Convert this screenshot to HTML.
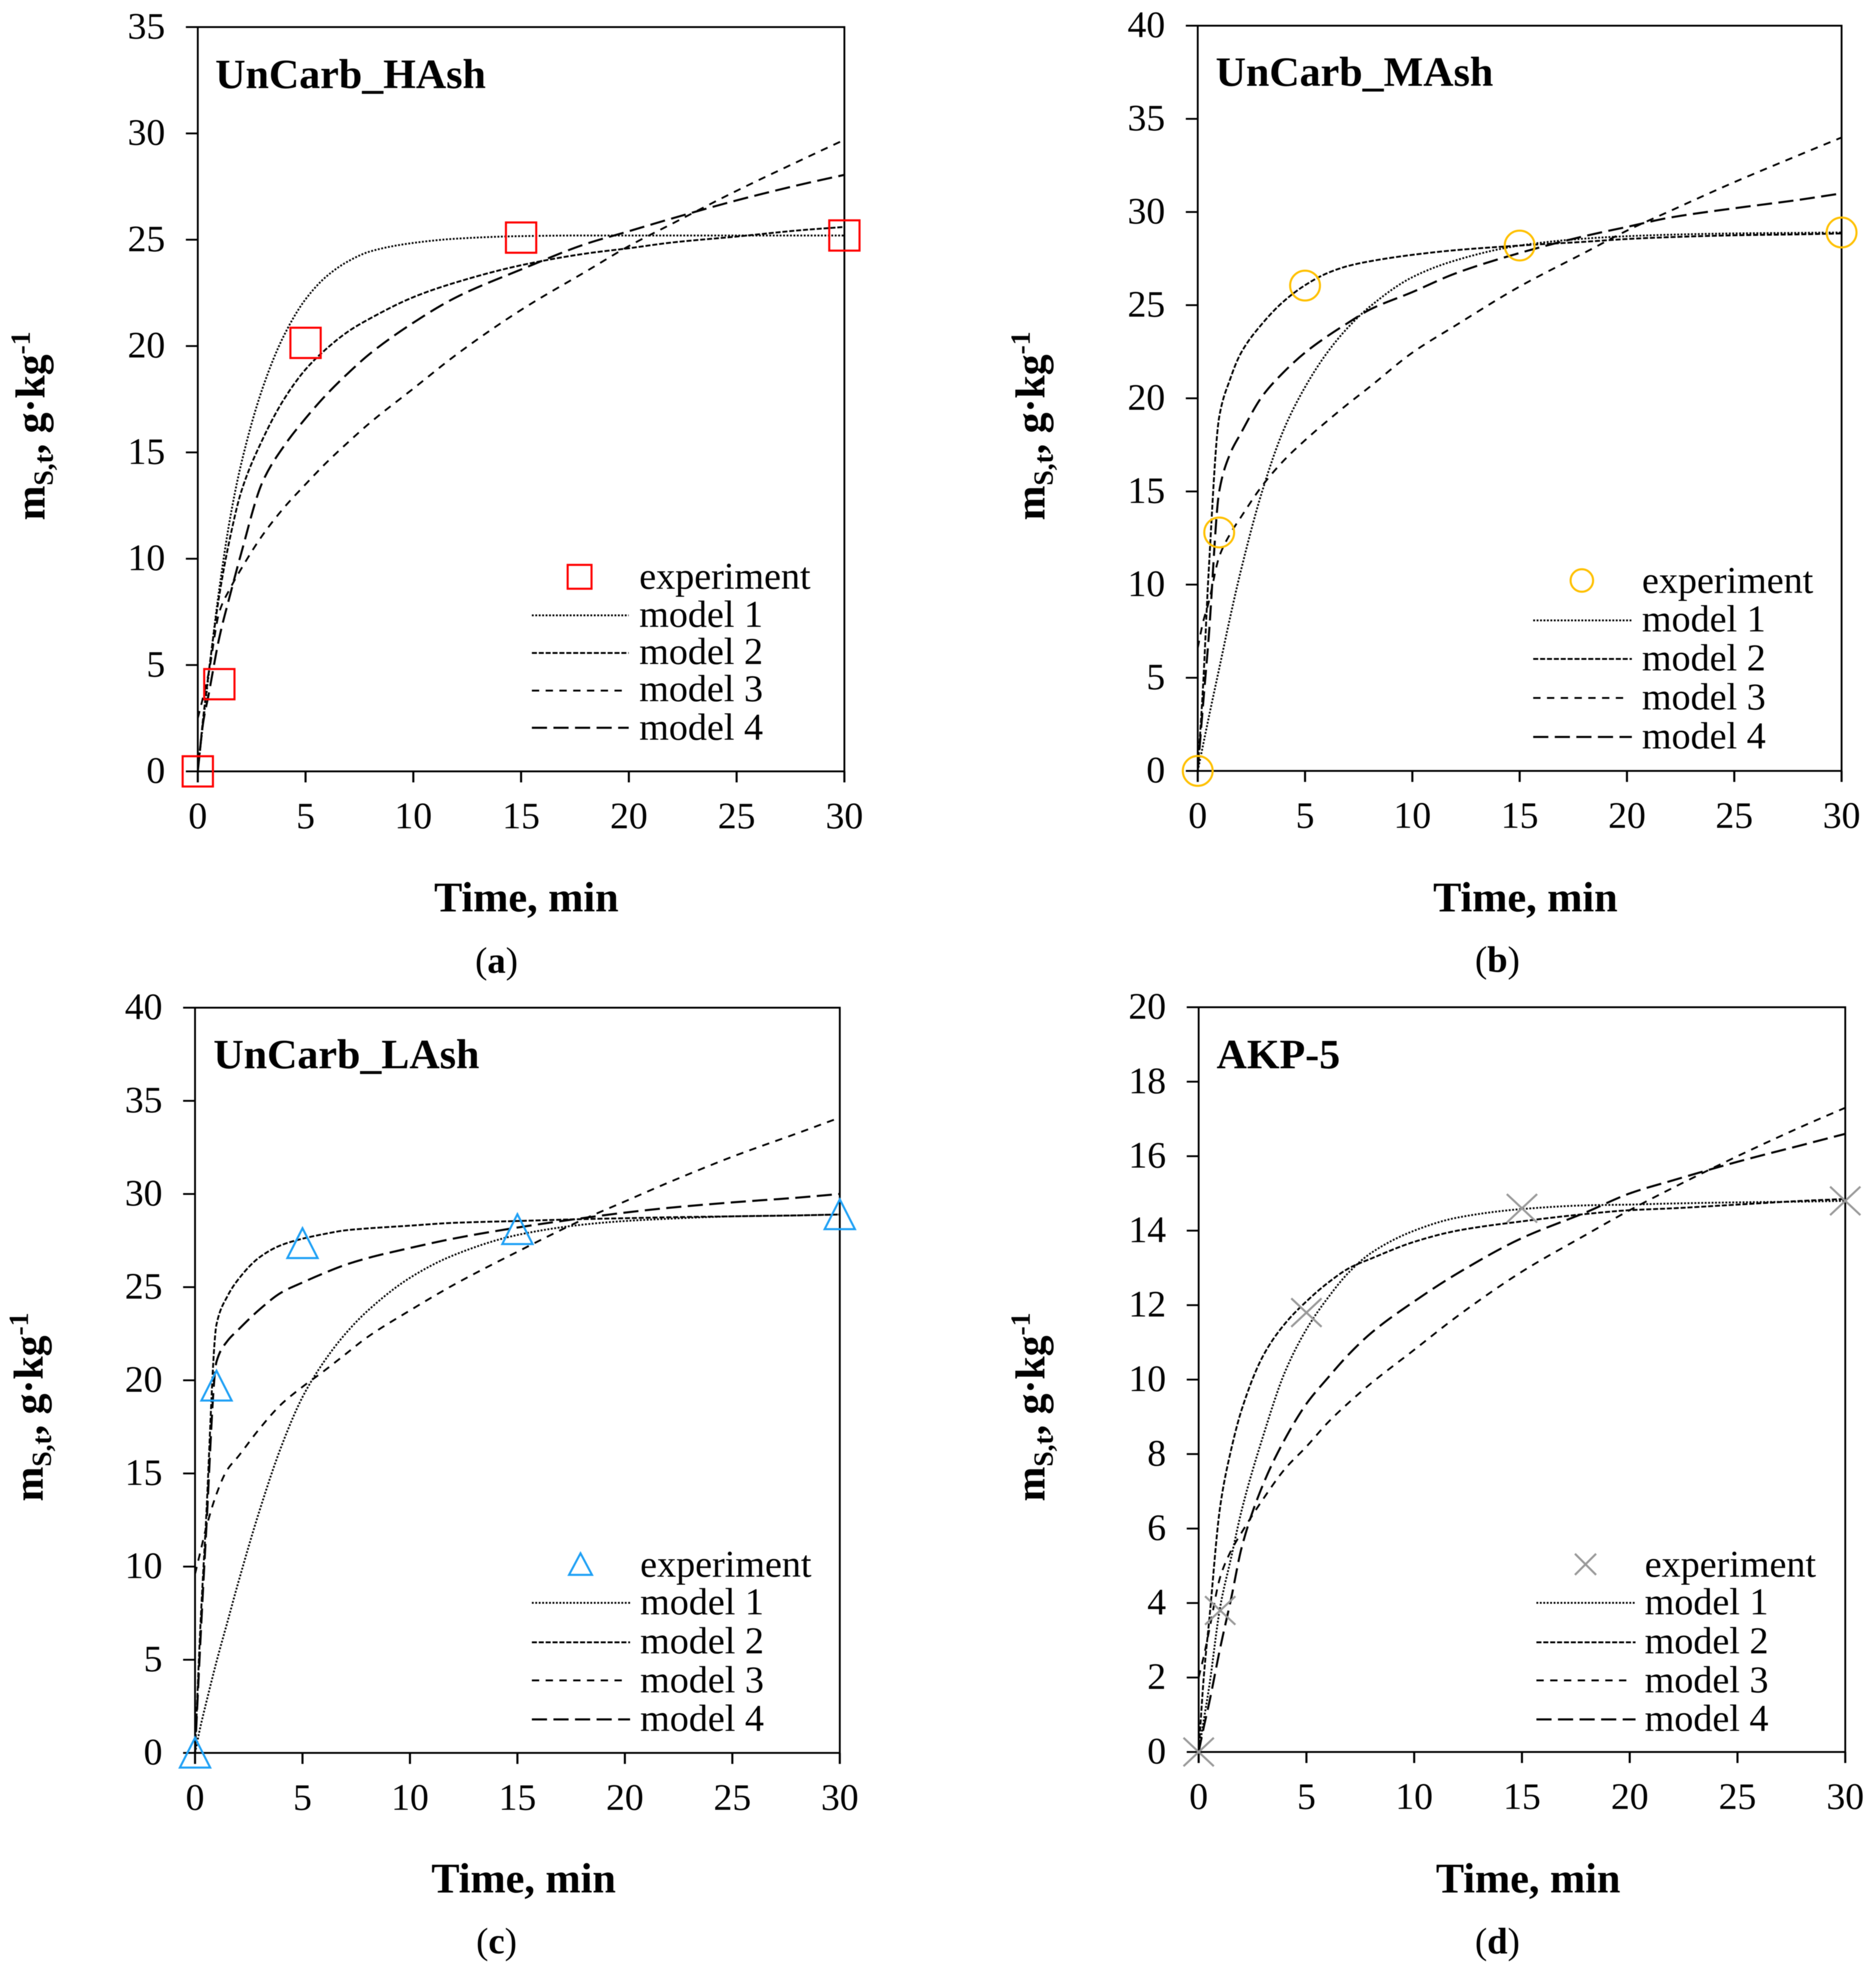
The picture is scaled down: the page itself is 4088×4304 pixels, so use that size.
<!DOCTYPE html>
<html lang="en">
<head>
<meta charset="utf-8">
<title>Adsorption kinetics charts</title>
<style>
html,body{margin:0;padding:0;background:#fff;width:4088px;height:4304px;overflow:hidden}
svg{display:block;filter:blur(0.7px)}
text{font-family:"Liberation Serif",serif;fill:#000}
</style>
</head>
<body>
<svg id="figure" xmlns="http://www.w3.org/2000/svg" width="4088" height="4304" viewBox="0 0 4088 4304">
  <rect width="4088" height="4304" fill="#fff"/>

  <g id="panel-a">
    <text x="469" y="192" font-size="91.5" font-weight="bold">UnCarb_HAsh</text>
    <text x="1147" y="1986" font-size="92" font-weight="bold" text-anchor="middle">Time, min</text>
    <text transform="translate(97,1134) rotate(-90)" font-size="91" font-weight="bold">m<tspan font-size="60" dy="18">S,t</tspan><tspan dy="-18">, g·kg</tspan><tspan font-size="60" dy="-32">-1</tspan></text>
    <text x="1082" y="2120" font-size="80" text-anchor="middle">(<tspan font-weight="bold">a</tspan>)</text>
    <g font-size="83">
      <rect x="1237" y="1231" width="52" height="52" fill="none" stroke="#ff0000" stroke-width="4.5"/>
      <text x="1393" y="1283">experiment</text>
      <line x1="1159" x2="1370" y1="1341" y2="1341" stroke="#000" stroke-width="4" stroke-dasharray="4 3.5"/>
      <text x="1393" y="1366">model 1</text>
      <line x1="1159" x2="1370" y1="1423" y2="1423" stroke="#000" stroke-width="4" stroke-dasharray="11 4"/>
      <text x="1393" y="1447">model 2</text>
      <line x1="1159" x2="1360" y1="1505" y2="1505" stroke="#000" stroke-width="4" stroke-dasharray="16 14"/>
      <text x="1393" y="1528">model 3</text>
      <line x1="1159" x2="1370" y1="1586" y2="1586" stroke="#000" stroke-width="4.5" stroke-dasharray="33 14"/>
      <text x="1393" y="1612">model 4</text>
    </g>
  </g>

  <g id="panel-b">
    <text x="2649" y="187" font-size="91.5" font-weight="bold">UnCarb_MAsh</text>
    <text x="3324" y="1986" font-size="92" font-weight="bold" text-anchor="middle">Time, min</text>
    <text transform="translate(2276,1134) rotate(-90)" font-size="91" font-weight="bold">m<tspan font-size="60" dy="18">S,t</tspan><tspan dy="-18">, g·kg</tspan><tspan font-size="60" dy="-32">-1</tspan></text>
    <text x="3263" y="2118" font-size="80" text-anchor="middle">(<tspan font-weight="bold">b</tspan>)</text>
    <g font-size="83">
      <circle cx="3447" cy="1265" r="24.5" fill="none" stroke="#ffc000" stroke-width="4.5"/>
      <text x="3578" y="1292">experiment</text>
      <line x1="3341" x2="3556" y1="1352" y2="1352" stroke="#000" stroke-width="4" stroke-dasharray="4 3.5"/>
      <text x="3578" y="1376">model 1</text>
      <line x1="3341" x2="3556" y1="1436" y2="1436" stroke="#000" stroke-width="4" stroke-dasharray="11 4"/>
      <text x="3578" y="1461">model 2</text>
      <line x1="3341" x2="3545" y1="1521" y2="1521" stroke="#000" stroke-width="4" stroke-dasharray="16 14"/>
      <text x="3578" y="1546">model 3</text>
      <line x1="3341" x2="3556" y1="1606" y2="1606" stroke="#000" stroke-width="4.5" stroke-dasharray="33 14"/>
      <text x="3578" y="1631">model 4</text>
    </g>
  </g>

  <g id="panel-c">
    <text x="465" y="2328" font-size="91.5" font-weight="bold">UnCarb_LAsh</text>
    <text x="1141" y="4124" font-size="92" font-weight="bold" text-anchor="middle">Time, min</text>
    <text transform="translate(93,3272) rotate(-90)" font-size="91" font-weight="bold">m<tspan font-size="60" dy="18">S,t</tspan><tspan dy="-18">, g·kg</tspan><tspan font-size="60" dy="-32">-1</tspan></text>
    <text x="1082" y="4257" font-size="80" text-anchor="middle">(<tspan font-weight="bold">c</tspan>)</text>
    <g font-size="83">
      <polygon points="1265,3385 1290,3432 1240,3432" fill="none" stroke="#1ea0f5" stroke-width="4.5"/>
      <text x="1395" y="3436">experiment</text>
      <line x1="1159" x2="1373" y1="3493" y2="3493" stroke="#000" stroke-width="4" stroke-dasharray="4 3.5"/>
      <text x="1395" y="3518">model 1</text>
      <line x1="1159" x2="1373" y1="3579" y2="3579" stroke="#000" stroke-width="4" stroke-dasharray="11 4"/>
      <text x="1395" y="3603">model 2</text>
      <line x1="1159" x2="1362" y1="3662" y2="3662" stroke="#000" stroke-width="4" stroke-dasharray="16 14"/>
      <text x="1395" y="3688">model 3</text>
      <line x1="1159" x2="1373" y1="3747" y2="3747" stroke="#000" stroke-width="4.5" stroke-dasharray="33 14"/>
      <text x="1395" y="3772">model 4</text>
    </g>
  </g>

  <g id="panel-d">
    <text x="2651" y="2328" font-size="91.5" font-weight="bold">AKP-5</text>
    <text x="3330" y="4124" font-size="92" font-weight="bold" text-anchor="middle">Time, min</text>
    <text transform="translate(2276,3272) rotate(-90)" font-size="91" font-weight="bold">m<tspan font-size="60" dy="18">S,t</tspan><tspan dy="-18">, g·kg</tspan><tspan font-size="60" dy="-32">-1</tspan></text>
    <text x="3263" y="4257" font-size="80" text-anchor="middle">(<tspan font-weight="bold">d</tspan>)</text>
    <g font-size="83">
      <path d="M3432 3386L3478 3432M3478 3386L3432 3432" fill="none" stroke="#999999" stroke-width="4.5"/>
      <text x="3584" y="3436">experiment</text>
      <line x1="3348" x2="3564" y1="3493" y2="3493" stroke="#000" stroke-width="4" stroke-dasharray="4 3.5"/>
      <text x="3584" y="3518">model 1</text>
      <line x1="3348" x2="3564" y1="3579" y2="3579" stroke="#000" stroke-width="4" stroke-dasharray="11 4"/>
      <text x="3584" y="3603">model 2</text>
      <line x1="3348" x2="3552" y1="3662" y2="3662" stroke="#000" stroke-width="4" stroke-dasharray="16 14"/>
      <text x="3584" y="3688">model 3</text>
      <line x1="3348" x2="3564" y1="3747" y2="3747" stroke="#000" stroke-width="4.5" stroke-dasharray="33 14"/>
      <text x="3584" y="3772">model 4</text>
    </g>
  </g>
</svg>

<script>
// ---- Shared x data ----
const timeGrid = [0,0.25,0.5,1,1.5,2,3,4,5,6,7,8,10,12,15,18,20,22,25,28,30];
const expTimes = [0,1,5,15,30];
const xTicks = [0,5,10,15,20,25,30];
const yTicksA = [0,5,10,15,20,25,30,35];
const yTicksB = [0,5,10,15,20,25,30,35,40];
const yTicksC = [0,5,10,15,20,25,30,35,40];
const yTicksD = [0,2,4,6,8,10,12,14,16,18,20];

// ---- Panel a: UnCarb_HAsh ----
const expA = [0,4.1,20.15,25.1,25.2];
const model1A = [0,2.3,4.5,8.6,11.9,14.4,18,20.5,22.2,23.3,24,24.45,24.85,25.05,25.17,25.2,25.2,25.2,25.2,25.2,25.2];
const model2A = [0,2.5,4.6,8.3,11,13.1,15.6,17.5,18.9,19.9,20.7,21.3,22.3,23.0,23.8,24.35,24.6,24.87,25.15,25.45,25.6];
const model3A = [2.5,3.5,4.6,7.5,8.6,9.5,11.1,12.4,13.5,14.55,15.5,16.4,18,19.6,21.7,23.5,24.7,25.75,27.3,28.75,29.7];
const model4A = [0,2.3,3.6,6.3,8.3,10.2,13.6,15.3,16.6,17.75,18.75,19.65,21.1,22.3,23.6,24.8,25.4,26,26.85,27.6,28.05];

// ---- Panel b: UnCarb_MAsh ----
const expB = [0,12.8,26.05,28.2,28.9];
const model1B = [0,1.4,2.8,5.5,8.2,10.7,15,18.3,20.6,22.4,23.8,24.9,26.5,27.4,28.2,28.57,28.7,28.78,28.85,28.88,28.9];
const model2B = [0,4.6,10.5,19,21,22.4,24,25.2,26.07,26.7,27.1,27.35,27.7,27.95,28.2,28.4,28.55,28.65,28.75,28.8,28.85];
const model3B = [6.6,8,9,11.5,12.7,13.6,15.3,16.65,17.75,18.75,19.7,20.6,22.45,23.9,26,27.8,29,30.05,31.6,33.05,34];
const model4B = [0,3.6,7,15,17,18.1,20.1,21.4,22.45,23.3,24.05,24.75,25.7,26.7,27.8,28.7,29.2,29.7,30.2,30.65,31];

// ---- Panel c: UnCarb_LAsh ----
const expC = [0,19.7,27.35,28.1,28.9];
const model1C = [0,1.4,2.6,4.9,7,9.1,13,16.4,19.1,21,22.5,23.7,25.5,26.7,27.8,28.35,28.55,28.67,28.8,28.85,28.9];
const model2C = [0,6.8,12.2,23,24.5,25.4,26.6,27.25,27.6,27.85,28.05,28.15,28.3,28.45,28.55,28.65,28.7,28.75,28.8,28.85,28.9];
const model3C = [9.6,10.8,12,13.9,15.2,15.9,17.4,18.7,19.65,20.5,21.4,22.3,23.75,25.1,26.9,28.6,29.6,30.6,32,33.25,34.1];
const model4C = [0,6,11.5,21,22.1,22.7,23.8,24.7,25.25,25.75,26.2,26.55,27.1,27.6,28.2,28.7,29,29.25,29.55,29.8,30];

// ---- Panel d: AKP-5 ----
const expD = [0,3.8,11.8,14.6,14.8];
const model1D = [0,0.9,1.8,3.9,5.2,6.5,8.5,10.2,11.35,12.2,12.9,13.4,14,14.35,14.58,14.68,14.7,14.73,14.76,14.78,14.8];
const model2D = [0,2.1,3.6,6.6,8.1,9.2,10.65,11.5,12.1,12.6,13,13.25,13.7,14,14.25,14.45,14.55,14.6,14.7,14.8,14.85];
const model3D = [2,2.6,3.3,4.7,5.4,5.9,6.8,7.6,8.2,8.85,9.4,9.9,10.8,11.7,12.9,13.9,14.55,15.15,16,16.8,17.3];
const model4D = [0,0.7,1.35,2.8,4.1,5.5,7.2,8.4,9.35,10.05,10.7,11.25,12.1,12.85,13.8,14.5,15,15.35,15.85,16.3,16.6];

const xMax = 30;
const NS = 'http://www.w3.org/2000/svg';

const panels = [
  {id:'panel-a', left:431, right:1840, top:59, bottom:1681, yMax:35, yTicks:yTicksA, exp:expA, models:[model1A,model2A,model3A,model4A], marker:'square', color:'#ff0000'},
  {id:'panel-b', left:2610, right:4013, top:56, bottom:1680, yMax:40, yTicks:yTicksB, exp:expB, models:[model1B,model2B,model3B,model4B], marker:'circle', color:'#ffc000'},
  {id:'panel-c', left:425, right:1830, top:2196, bottom:3820, yMax:40, yTicks:yTicksC, exp:expC, models:[model1C,model2C,model3C,model4C], marker:'triangle', color:'#1ea0f5'},
  {id:'panel-d', left:2612, right:4021, top:2195, bottom:3818, yMax:20, yTicks:yTicksD, exp:expD, models:[model1D,model2D,model3D,model4D], marker:'cross', color:'#999999'}
];

const modelStyles = [
  {dash:'4 3.5', width:4},
  {dash:'11 4', width:4},
  {dash:'16 14', width:4},
  {dash:'33 14', width:4.5}
];

function xScale(p, t) { return p.left + (t / xMax) * (p.right - p.left); }
function yScale(p, v) { return p.bottom - (v / p.yMax) * (p.bottom - p.top); }

function make(tag, parent) {
  const el = document.createElementNS(NS, tag);
  parent.appendChild(el);
  return el;
}

function line(parent, x1, y1, x2, y2, w) {
  const el = make('line', parent);
  el.setAttribute('x1', x1);
  el.setAttribute('y1', y1);
  el.setAttribute('x2', x2);
  el.setAttribute('y2', y2);
  el.setAttribute('stroke', '#000');
  el.setAttribute('stroke-width', w);
  return el;
}

// Monotone cubic path through the data points
function curvePath(p, ts, vs) {
  const xs = ts.map(function (t) { return xScale(p, t); });
  const ys = vs.map(function (v) { return yScale(p, v); });
  const n = xs.length;
  const s = [];
  for (let i = 0; i < n - 1; i++) s.push((ys[i + 1] - ys[i]) / (xs[i + 1] - xs[i]));
  const m = [s[0]];
  for (let i = 1; i < n - 1; i++) {
    if (s[i - 1] * s[i] <= 0) { m.push(0); }
    else {
      const h0 = xs[i] - xs[i - 1], h1 = xs[i + 1] - xs[i];
      const w1 = 2 * h1 + h0, w2 = h1 + 2 * h0;
      m.push((w1 + w2) / (w1 / s[i - 1] + w2 / s[i]));
    }
  }
  m.push(s[n - 2]);
  let d = 'M' + xs[0].toFixed(1) + ' ' + ys[0].toFixed(1);
  for (let i = 0; i < n - 1; i++) {
    const h = (xs[i + 1] - xs[i]) / 3;
    d += 'C' + (xs[i] + h).toFixed(1) + ' ' + (ys[i] + m[i] * h).toFixed(1) + ' ' +
         (xs[i + 1] - h).toFixed(1) + ' ' + (ys[i + 1] - m[i + 1] * h).toFixed(1) + ' ' +
         xs[i + 1].toFixed(1) + ' ' + ys[i + 1].toFixed(1);
  }
  return d;
}

function drawMarker(group, p, t, v) {
  const cx = xScale(p, t), cy = yScale(p, v);
  let el;
  if (p.marker === 'square') {
    el = make('rect', group);
    el.setAttribute('x', cx - 33);
    el.setAttribute('y', cy - 33);
    el.setAttribute('width', 66);
    el.setAttribute('height', 66);
  } else if (p.marker === 'circle') {
    el = make('circle', group);
    el.setAttribute('cx', cx);
    el.setAttribute('cy', cy);
    el.setAttribute('r', 32.5);
  } else if (p.marker === 'triangle') {
    el = make('polygon', group);
    el.setAttribute('points', cx + ',' + (cy - 33) + ' ' + (cx + 33) + ',' + (cy + 32) + ' ' + (cx - 33) + ',' + (cy + 32));
  } else {
    el = make('path', group);
    el.setAttribute('d', 'M' + (cx - 33) + ' ' + (cy - 31) + 'L' + (cx + 33) + ' ' + (cy + 31) + 'M' + (cx + 33) + ' ' + (cy - 31) + 'L' + (cx - 33) + ' ' + (cy + 31));
  }
  el.setAttribute('fill', 'none');
  el.setAttribute('stroke', p.color);
  el.setAttribute('stroke-width', 4.5);
  
  
}

panels.forEach(function (p) {
  const root = document.getElementById(p.id);

  // Plot frame
  const frame = make('rect', root);
  frame.setAttribute('x', p.left);
  frame.setAttribute('y', p.top);
  frame.setAttribute('width', p.right - p.left);
  frame.setAttribute('height', p.bottom - p.top);
  frame.setAttribute('fill', 'none');
  frame.setAttribute('stroke', '#000');
  frame.setAttribute('stroke-width', 4);
  
  

  // Y axis ticks and labels
  p.yTicks.forEach(function (v) {
    const y = yScale(p, v);
    const tick = line(root, p.left - 26, y, p.left, y, 4);
    
    
    const label = make('text', root);
    label.setAttribute('x', p.left - 71);
    label.setAttribute('y', y + 25);
    label.setAttribute('font-size', 82);
    label.setAttribute('text-anchor', 'end');
    
    
    label.textContent = String(v);
  });

  // X axis ticks and labels
  xTicks.forEach(function (t) {
    const x = xScale(p, t);
    const tick = line(root, x, p.bottom, x, p.bottom + 24, 4.5);
    
    
    const label = make('text', root);
    label.setAttribute('x', x);
    label.setAttribute('y', p.bottom + 124);
    label.setAttribute('font-size', 82);
    label.setAttribute('text-anchor', 'middle');
    
    
    label.textContent = String(t);
  });

  // Model curves
  p.models.forEach(function (values, i) {
    const path = make('path', root);
    path.setAttribute('d', curvePath(p, timeGrid, values));
    path.setAttribute('fill', 'none');
    path.setAttribute('stroke', '#000');
    path.setAttribute('stroke-width', modelStyles[i].width);
    path.setAttribute('stroke-dasharray', modelStyles[i].dash);
    
    
  });

  // Experimental points
  const group = make('g', root);
  
  
  p.exp.forEach(function (v, i) { drawMarker(group, p, expTimes[i], v); });
});
</script>
</body>
</html>
